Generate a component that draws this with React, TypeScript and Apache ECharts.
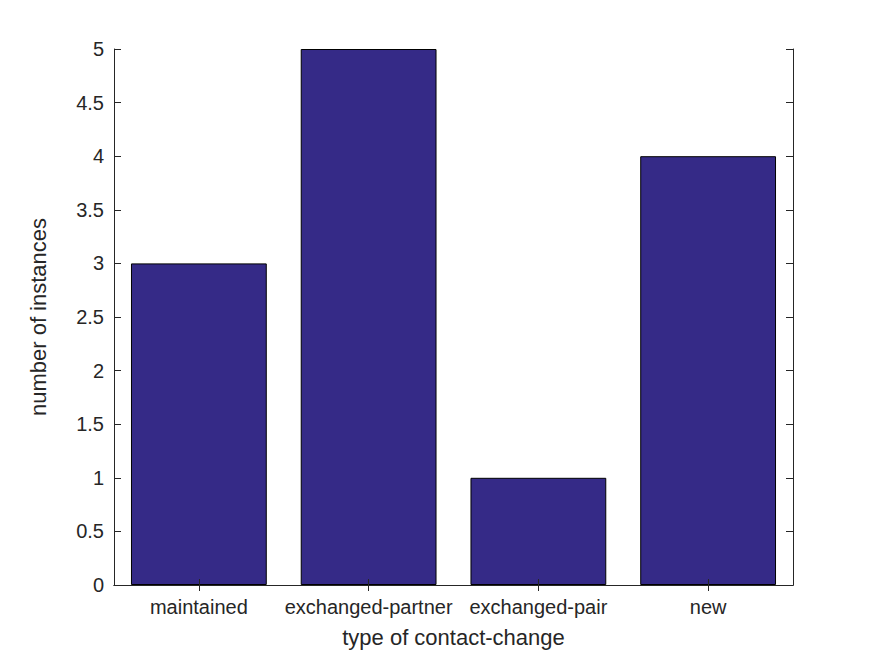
import React, { useEffect, useRef } from "react";
import * as echarts from "echarts";

const categories = ["maintained", "exchanged-partner", "exchanged-pair", "new"];
const counts = [3, 5, 1, 4];
const yMin = 0;
const yMax = 5;
const yInterval = 0.5;

const FONT = "'Liberation Sans', Arial, Helvetica, sans-serif";
const TEXT = "#262626";

export default function App() {
  const ref = useRef<HTMLDivElement>(null);
  useEffect(() => {
    const chart = echarts.init(ref.current!, null, { renderer: "svg" });
    const axisLine = { show: true, lineStyle: { color: "#262626", width: 1 } };
    chart.setOption({
      animation: false,
      backgroundColor: "#ffffff",
      textStyle: { fontFamily: FONT },
      grid: { left: 114, top: 49, width: 679, height: 536, containLabel: false },
      xAxis: [
        {
          type: "category",
          data: categories,
          position: "bottom",
          z: 5,
          axisLine,
          axisTick: { show: true, inside: true, alignWithLabel: true, length: 6, lineStyle: { color: "#262626" } },
          axisLabel: { color: TEXT, fontSize: 20, fontFamily: FONT, margin: 12, interval: 0 },
          name: "type of contact-change",
          nameLocation: "middle",
          nameGap: 41,
          nameTextStyle: { color: TEXT, fontSize: 22, fontFamily: FONT },
          splitLine: { show: false },
        },
        {
          type: "category",
          data: categories,
          position: "top",
          z: 5,
          axisLine,
          axisTick: { show: true, inside: true, alignWithLabel: true, length: 6, lineStyle: { color: "#262626" } },
          axisLabel: { show: false },
          splitLine: { show: false },
        },
      ],
      yAxis: [
        {
          type: "value",
          min: yMin,
          max: yMax,
          interval: yInterval,
          position: "left",
          z: 5,
          axisLine,
          axisTick: { show: true, inside: true, length: 7, lineStyle: { color: "#262626" } },
          axisLabel: { color: TEXT, fontSize: 20, fontFamily: FONT, margin: 10 },
          splitLine: { show: false },
          name: "number of instances",
          nameLocation: "middle",
          nameGap: 65,
          nameRotate: 90,
          nameTextStyle: { color: TEXT, fontSize: 22, fontFamily: FONT },
        },
        {
          type: "value",
          min: yMin,
          max: yMax,
          interval: yInterval,
          position: "right",
          z: 5,
          axisLine,
          axisTick: { show: true, inside: true, length: 7, lineStyle: { color: "#262626" } },
          axisLabel: { show: false },
          splitLine: { show: false },
        },
      ],
      series: [
        {
          type: "bar",
          data: counts,
          xAxisIndex: 0,
          yAxisIndex: 0,
          barWidth: "80%",
          itemStyle: { color: "#352a87", borderColor: "#000000", borderWidth: 1 },
        },
      ],
    });
    return () => chart.dispose();
  }, []);
  return (
    <div
      ref={ref}
      style={{ position: "fixed", left: 0, top: 0, width: 875, height: 656, background: "#fff" }}
    />
  );
}
